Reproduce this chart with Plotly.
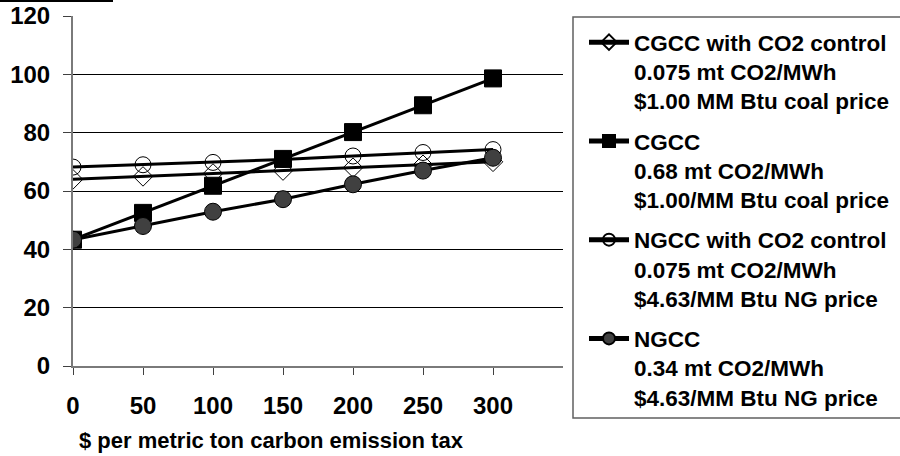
import plotly.graph_objects as go

tax = [0, 50, 100, 150, 200, 250, 300]
cgcc_ctrl = [64, 65, 66, 67, 68, 69, 70]
cgcc = [43.3, 52.5, 61.8, 71.0, 80.2, 89.4, 98.6]
ngcc_ctrl = [68.2, 69.0, 69.8, 70.8, 72.0, 73.2, 74.2]
ngcc = [43.3, 48.0, 52.9, 57.2, 62.3, 67.0, 71.4]

names = [
    "CGCC with CO2 control<br>0.075 mt CO2/MWh<br>$1.00 MM Btu coal price",
    "CGCC<br>0.68 mt CO2/MWh<br>$1.00/MM Btu coal price",
    "NGCC with CO2 control<br>0.075 mt CO2/MWh<br>$4.63/MM Btu NG price",
    "NGCC<br>0.34 mt CO2/MWh<br>$4.63/MM Btu NG price",
]
x_ticks = [0, 50, 100, 150, 200, 250, 300]
y_ticks = [0, 20, 40, 60, 80, 100, 120]

FONT = "Arial, Liberation Sans, sans-serif"

fig = go.Figure()
fig.add_trace(go.Scatter(x=tax, y=cgcc_ctrl, name=names[0], mode="lines+markers",
                         legendgroup="a",
                         line=dict(color="black", width=3),
                         marker=dict(symbol="diamond-open", size=15, color="black",
                                     line=dict(width=1, color="black"))))
fig.add_trace(go.Scatter(x=tax, y=cgcc, name=names[1], mode="lines+markers",
                         legendgroup="b",
                         line=dict(color="black", width=3),
                         marker=dict(symbol="square", size=17, color="black",
                                     line=dict(width=1, color="black"))))
fig.add_trace(go.Scatter(x=tax, y=ngcc_ctrl, name=names[2], mode="lines+markers",
                         legendgroup="c",
                         line=dict(color="black", width=3),
                         marker=dict(symbol="circle-open", size=16, color="black",
                                     line=dict(width=1, color="black"))))
fig.add_trace(go.Scatter(x=tax, y=ngcc, name=names[3], mode="lines+markers",
                         legendgroup="d",
                         line=dict(color="black", width=3),
                         marker=dict(symbol="circle", size=17, color="#404040",
                                     line=dict(width=1, color="black"))))

PX_L, PX_R, PX_T, PX_B = 73, 563, 16, 366
W, H = PX_R - PX_L, PX_B - PX_T

def px(x):
    return (x - PX_L) / W

def py(y):
    return (PX_B - y) / H

fig.update_layout(
    width=900, height=456,
    margin=dict(l=PX_L, r=900 - PX_R, t=PX_T, b=456 - PX_B, autoexpand=False),
    paper_bgcolor="white", plot_bgcolor="white",
    font=dict(family=FONT, size=22, color="black", weight="bold"),
    showlegend=True,
    legend=dict(x=px(584), xanchor="left", y=py(21), yanchor="top",
                bgcolor="rgba(0,0,0,0)", borderwidth=0, maxheight=450,
                font=dict(family=FONT, size=22.5, color="black", weight="bold"),
                valign="top", itemsizing="constant", itemwidth=40,
                tracegroupgap=8),
    xaxis=dict(range=[0, 350], tickvals=x_ticks, ticktext=[str(v) for v in x_ticks],
               showgrid=False, zeroline=False, showline=True,
               linecolor="#7a7a7a", linewidth=2,
               ticks="outside", ticklen=7, tickcolor="#404040", tickwidth=1,
               ticklabelstandoff=10,
               tickfont=dict(family=FONT, size=24, color="black", weight="bold")),
    yaxis=dict(range=[0, 120], tickvals=y_ticks,
               showgrid=True, gridcolor="black", gridwidth=1,
               zeroline=False, showline=True,
               linecolor="#7a7a7a", linewidth=2,
               ticks="outside", ticklen=8, tickcolor="#404040", tickwidth=1,
               ticklabelstandoff=8,
               tickfont=dict(family=FONT, size=24, color="black", weight="bold")),
    shapes=[
        dict(type="rect", xref="paper", yref="paper",
             x0=px(573), x1=px(910), y0=py(418), y1=py(17),
             line=dict(color="#606060", width=1.5), fillcolor="rgba(0,0,0,0)"),
        dict(type="rect", xref="paper", yref="paper",
             x0=px(0), x1=px(113), y0=py(2), y1=py(-2),
             line=dict(width=0), fillcolor="black"),
    ],
    annotations=[
        dict(text="$ per metric ton carbon emission tax", xref="paper", yref="paper",
             x=px(271), y=py(441), xanchor="center", yanchor="middle", showarrow=False,
             font=dict(family=FONT, size=22, color="black", weight="bold")),
    ],
)

fig.write_html("out.html", config={"displayModeBar": False},
               post_script="document.body.style.margin='0';document.body.style.padding='0';")
